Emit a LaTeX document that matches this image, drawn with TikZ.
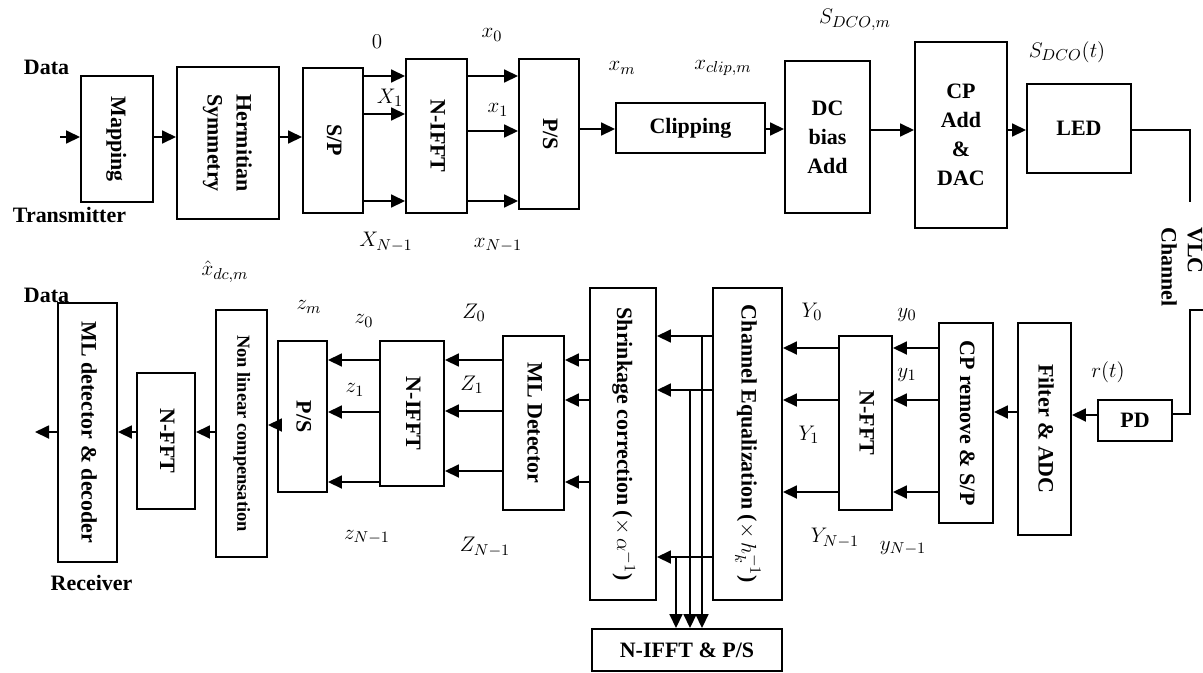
\documentclass[tikz,border=0pt]{standalone}
\usepackage{fontspec}
\setmainfont{Liberation Serif}
\usetikzlibrary{arrows.meta}
\tikzstyle{block} = [rectangle, draw=black, line width=1.1pt, inner sep=1pt, text centered, font=\bfseries\fontsize{12.5}{16.5}\selectfont]
\tikzstyle{lab} = [inner sep=0pt, font=\fontsize{12.5}{15}\selectfont]
\tikzstyle{tag} = [inner sep=0pt, font=\bfseries\fontsize{12.5}{15}\selectfont]
\tikzstyle{arrow} = [line width=1pt, -{Triangle[length=0.28cm, width=0.26cm]}]
\tikzstyle{wire} = [line width=1pt]
\newcommand{\vtxt}[1]{\rotatebox{-90}{\begin{tabular}{@{}c@{}}#1\end{tabular}}}

\begin{document}
\begin{tikzpicture}
\useasboundingbox (0,0) rectangle (24.06,-13.44);
% transmitter
\node (map) [block, minimum width=1.44cm, minimum height=2.52cm] at (2.34,-2.78) {\vtxt{Mapping}};
\node (herm) [block, minimum width=2.04cm, minimum height=3.04cm] at (4.56,-2.86) {\vtxt{Hermitian\\Symmetry}};
\node (sp) [block, minimum width=1.2cm, minimum height=2.9cm] at (6.66,-2.81) {\vtxt{S/P}};
\node (ifft) [block, minimum width=1.22cm, minimum height=3.08cm] at (8.73,-2.72) {\vtxt{N-IFFT}};
\node (ps) [block, minimum width=1.2cm, minimum height=3.0cm] at (10.98,-2.68) {\vtxt{P/S}};
\node (clip) [block, minimum width=2.98cm, minimum height=1.0cm] at (13.81,-2.56) {Clipping};
\node (dc) [block, minimum width=1.7cm, minimum height=3.04cm, align=center] at (16.55,-2.74) {DC\\bias\\Add};
\node (cp) [block, minimum width=1.84cm, minimum height=3.72cm, align=center] at (19.22,-2.70) {CP\\Add\\\&\\DAC};
\node (led) [block, minimum width=2.08cm, minimum height=1.78cm] at (21.58,-2.57) {LED};

\node (dtx) [tag] at (0.93,-1.34) {Data};
\node (tx) [tag] at (1.39,-4.30) {Transmitter};
\node (lzero) [lab] at (7.54,-0.84) {$0$};
\node (lX1) [lab] at (7.80,-1.96) {$X_1$};
\node (lXN) [lab] at (7.72,-4.84) {$X_{N-1}$};
\node (lx0) [lab] at (9.84,-0.70) {$x_0$};
\node (lx1) [lab] at (9.96,-2.20) {$x_1$};
\node (lxN) [lab] at (9.96,-4.90) {$x_{N-1}$};
\node (lxm) [lab] at (12.44,-1.36) {$x_m$};
\node (lxc) [lab] at (14.46,-1.36) {$x_{clip,m}$};
\node (lsm) [lab] at (17.10,-0.40) {$S_{DCO,m}$};
\node (lst) [lab] at (21.34,-1.04) {$S_{DCO}(t)$};

\coordinate (din) at (1.20,-2.74);
\coordinate (t0) at (0,-1.52);
\coordinate (t1) at (0,-2.28);
\coordinate (tm) at (0,-2.62);
\coordinate (t2) at (0,-4.02);
\coordinate (tc) at (0,-2.58);
\coordinate (td) at (0,-2.60);
\draw [arrow] (din) -- (map.west |- din);
\draw [arrow] (map.east |- din) -- (herm.west |- din);
\draw [arrow] (herm.east |- din) -- (sp.west |- din);
\draw [arrow] (sp.east |- t0) -- (ifft.west |- t0);
\draw [arrow] (sp.east |- t1) -- (ifft.west |- t1);
\draw [arrow] (sp.east |- t2) -- (ifft.west |- t2);
\draw [arrow] (ifft.east |- t0) -- (ps.west |- t0);
\draw [arrow] (ifft.east |- tm) -- (ps.west |- tm);
\draw [arrow] (ifft.east |- t2) -- (ps.west |- t2);
\draw [arrow] (ps.east |- tc) -- (clip.west |- tc);
\draw [arrow] (clip.east |- tc) -- (dc.west |- tc);
\draw [arrow] (dc.east |- td) -- (cp.west |- td);
\draw [arrow] (cp.east |- td) -- (led.west |- td);

% channel
\coordinate (ch1) at (23.80,-2.60);
\coordinate (ch2) at (23.80,-4.04);
\coordinate (ch3) at (24.06,-6.20);
\coordinate (ch4) at (23.80,-6.20);
\coordinate (ch5) at (23.80,-8.28);
\node (vlc) [tag] at (23.60,-5.34) {\rotatebox{-90}{\begin{tabular}{@{}l@{}}VLC\\Channel\end{tabular}}};
\draw [wire] (led.east |- ch1) -- (ch1) -- (ch2);

% receiver
\node (pd) [block, minimum width=1.48cm, minimum height=0.82cm] at (22.70,-8.41) {PD};
\node (filt) [block, minimum width=1.06cm, minimum height=4.24cm] at (20.89,-8.58) {\vtxt{Filter \& ADC}};
\node (cprm) [block, minimum width=1.08cm, minimum height=4.0cm] at (19.32,-8.46) {\vtxt{CP remove \& S/P}};
\node (nfft) [block, minimum width=1.06cm, minimum height=3.48cm] at (17.31,-8.46) {\vtxt{N-FFT}};
\node (cheq) [block, minimum width=1.38cm, minimum height=6.24cm] at (14.95,-8.88) {\vtxt{Channel Equalization ($\times\, h_k^{-1}$)}};
\node (shr) [block, minimum width=1.32cm, minimum height=6.24cm] at (12.46,-8.88) {\vtxt{Shrinkage correction ($\times\, \alpha^{-1}$)}};
\node (ips) [block, minimum width=3.8cm, minimum height=0.84cm] at (13.74,-13.00) {N-IFFT \& P/S};
\node (mld) [block, minimum width=1.22cm, minimum height=3.48cm] at (10.67,-8.46) {\vtxt{ML Detector}};
\node (rifft) [block, minimum width=1.28cm, minimum height=2.9cm] at (8.24,-8.27) {\vtxt{N-IFFT}};
\node (rps) [block, minimum width=0.98cm, minimum height=3.02cm] at (6.05,-8.33) {\vtxt{P/S}};
\node (nlc) [block, minimum width=1.02cm, minimum height=4.94cm, font=\bfseries\fontsize{10.5}{12}\selectfont] at (4.83,-8.67) {\vtxt{Non linear compensation}};
\node (rfft) [block, minimum width=1.16cm, minimum height=2.72cm] at (3.32,-8.82) {\vtxt{N-FFT}};
\node (mldec) [block, minimum width=1.18cm, minimum height=5.18cm] at (1.75,-8.65) {\vtxt{ML detector \& decoder}};

\node (drx) [tag] at (0.93,-5.90) {Data};
\node (rx) [tag] at (1.83,-11.66) {Receiver};
\node (lxh) [lab] at (4.50,-5.44) {$\hat{x}_{dc,m}$};
\node (lzm) [lab] at (6.18,-6.14) {$z_m$};
\node (lz0) [lab] at (7.28,-6.42) {$z_0$};
\node (lz1) [lab] at (7.10,-7.80) {$z_1$};
\node (lzN) [lab] at (7.34,-10.74) {$z_{N-1}$};
\node (lZ0) [lab] at (9.48,-6.26) {$Z_0$};
\node (lZ1) [lab] at (9.44,-7.70) {$Z_1$};
\node (lZN) [lab] at (9.70,-10.94) {$Z_{N-1}$};
\node (lY0) [lab] at (16.24,-6.24) {$Y_0$};
\node (lY1) [lab] at (16.18,-8.70) {$Y_1$};
\node (lYN) [lab] at (16.70,-10.76) {$Y_{N-1}$};
\node (ly0) [lab] at (18.14,-6.30) {$y_0$};
\node (ly1) [lab] at (18.14,-7.50) {$y_1$};
\node (lyN) [lab] at (18.06,-10.96) {$y_{N-1}$};
\node (lrt) [lab] at (22.16,-7.44) {$r(t)$};

\draw [wire] (ch3) -- (ch4) -- (ch5) -- (pd.east |- ch5);

\coordinate (r0) at (0,-8.30);
\coordinate (r1) at (0,-8.24);
\coordinate (a0) at (0,-6.96);
\coordinate (a1) at (0,-8.00);
\coordinate (a2) at (0,-9.84);
\coordinate (k0) at (14.04,-6.72);
\coordinate (k1) at (13.80,-7.80);
\coordinate (k2) at (13.52,-11.14);
\coordinate (b0) at (0,-7.20);
\coordinate (b1) at (0,-8.00);
\coordinate (b2) at (0,-9.64);
\coordinate (c1) at (0,-8.22);
\coordinate (c2) at (0,-9.42);
\coordinate (e1) at (0,-8.24);
\coordinate (f0) at (0,-8.50);
\coordinate (f1) at (0,-8.64);
\coordinate (dout) at (0.70,-8.64);
\draw [arrow] (pd.west |- r0) -- (filt.east |- r0);
\draw [arrow] (filt.west |- r1) -- (cprm.east |- r1);
\draw [arrow] (cprm.west |- a0) -- (nfft.east |- a0);
\draw [arrow] (cprm.west |- a1) -- (nfft.east |- a1);
\draw [arrow] (cprm.west |- a2) -- (nfft.east |- a2);
\draw [arrow] (nfft.west |- a0) -- (cheq.east |- a0);
\draw [arrow] (nfft.west |- a1) -- (cheq.east |- a1);
\draw [arrow] (nfft.west |- a2) -- (cheq.east |- a2);
\draw [arrow] (cheq.west |- k0) -- (shr.east |- k0);
\draw [arrow] (cheq.west |- k1) -- (shr.east |- k1);
\draw [arrow] (cheq.west |- k2) -- (shr.east |- k2);
\draw [arrow] (k0) -- (k0 |- ips.north);
\draw [arrow] (k1) -- (k1 |- ips.north);
\draw [arrow] (k2) -- (k2 |- ips.north);
\draw [arrow] (shr.west |- b0) -- (mld.east |- b0);
\draw [arrow] (shr.west |- b1) -- (mld.east |- b1);
\draw [arrow] (shr.west |- b2) -- (mld.east |- b2);
\draw [arrow] (mld.west |- b0) -- (rifft.east |- b0);
\draw [arrow] (mld.west |- c1) -- (rifft.east |- c1);
\draw [arrow] (mld.west |- c2) -- (rifft.east |- c2);
\draw [arrow] (rifft.west |- b0) -- (rps.east |- b0);
\draw [arrow] (rifft.west |- e1) -- (rps.east |- e1);
\draw [arrow] (rifft.west |- b2) -- (rps.east |- b2);
\draw [arrow] (rps.west |- f0) -- (nlc.east |- f0);
\draw [arrow] (nlc.west |- f1) -- (rfft.east |- f1);
\draw [arrow] (rfft.west |- f1) -- (mldec.east |- f1);
\draw [arrow] (mldec.west |- dout) -- (dout);
\end{tikzpicture}
\end{document}
